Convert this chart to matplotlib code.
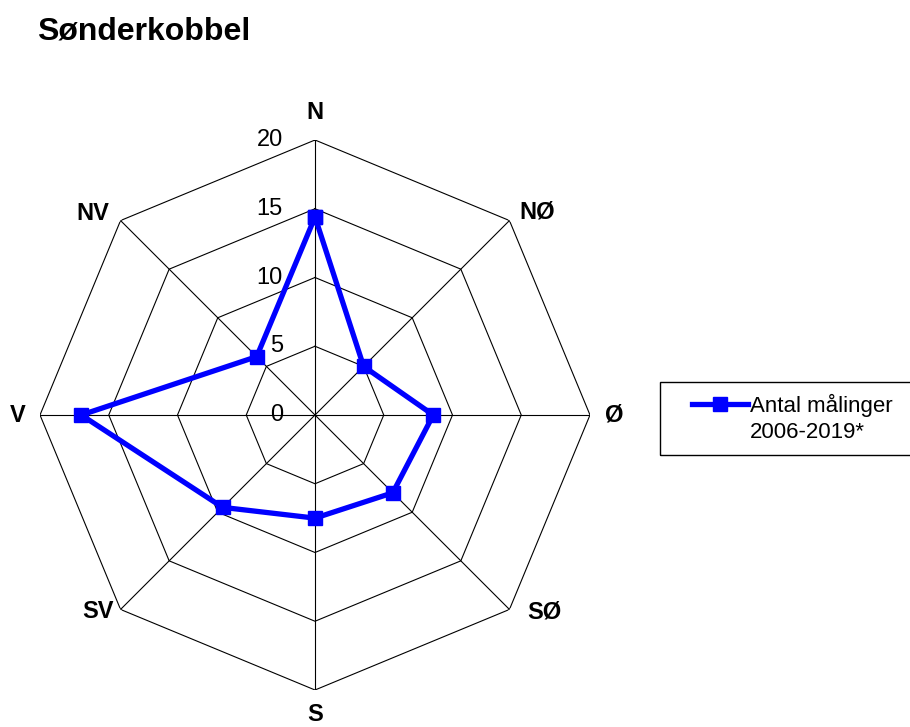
import numpy as np
import matplotlib
matplotlib.use("Agg")
from matplotlib import pyplot as plt
from matplotlib.lines import Line2D
from matplotlib.patches import Rectangle
from matplotlib.transforms import ScaledTranslation

plt.rcParams['font.family'] = ['Liberation Sans', 'DejaVu Sans']

# data
directions = ['N', 'NØ', 'Ø', 'SØ', 'S', 'SV', 'V', 'NV']
counts = [14.4, 5.0, 8.6, 8.0, 7.5, 9.5, 17.0, 6.0]
ring_values = [0, 5, 10, 15, 20]
series_name = ['Antal målinger', '2006-2019*']
title = 'Sønderkobbel'

# where Excel put the category labels (angle from north in degrees, radius)
label_pos = [(0, 22.0), (47.6, 21.9), (90, 21.8), (130.6, 22.0),
             (180, 21.8), (227.8, 21.3), (270, 21.6), (312.3, 21.8)]

fig = plt.figure(figsize=(9.10, 7.27), dpi=100)
ax = fig.add_axes([40 / 910, 37 / 727, 550 / 910, 550 / 727], projection='polar')
ax.set_theta_zero_location('N')
ax.set_theta_direction(-1)
ax.set_ylim(0, 20)
ax.grid(False)
ax.spines['polar'].set_visible(False)
ax.set_xticks([])
ax.set_yticks([])
ax.patch.set_alpha(0)

theta = np.deg2rad(np.arange(len(directions)) * 45.0)
theta_closed = np.append(theta, theta[0])

# octagon grid
for r in ring_values[1:]:
    ax.plot(theta_closed, [r] * len(theta_closed), color='black', lw=0.8, zorder=1)
for t in theta:
    ax.plot([t, t], [0, ring_values[-1]], color='black', lw=0.8, zorder=1)

# data series
vals_closed = counts + counts[:1]
ax.plot(theta_closed, vals_closed, color='#0000FF', lw=3.8, marker='s',
        markersize=10, zorder=3, clip_on=False)

# ring value labels to the left of the N spoke
shift = ScaledTranslation(-32 / 100, 0, fig.dpi_scale_trans)
for r in ring_values:
    ax.text(0, r, str(r), transform=ax.transData + shift, ha='right',
            va='center', fontsize=17)

# direction labels
for name, (ang, r) in zip(directions, label_pos):
    ax.text(np.deg2rad(ang), r, name, ha='center', va='center',
            fontsize=17, fontweight='bold')

fig.text(37 / 910, 1 - 31 / 727, title, fontsize=23, fontweight='bold',
         ha='left', va='center')

# legend box (runs off the right edge like the original)
fig.add_artist(Rectangle((660 / 910, 1 - 455 / 727), 260 / 910, 73 / 727,
                         transform=fig.transFigure, fill=False,
                         edgecolor='black', lw=1))
handles = [Line2D([], [], color='#0000FF', lw=3.8, marker='s', markersize=10),
           Line2D([], [], color='none')]
fig.legend(handles, series_name, loc='upper left',
           bbox_to_anchor=(692 / 910, 1 - 394 / 727), frameon=False,
           fontsize=16, handlelength=2.5, handletextpad=0.1,
           labelspacing=0.22, borderpad=0, borderaxespad=0)

fig.savefig('out.png', dpi=100)
